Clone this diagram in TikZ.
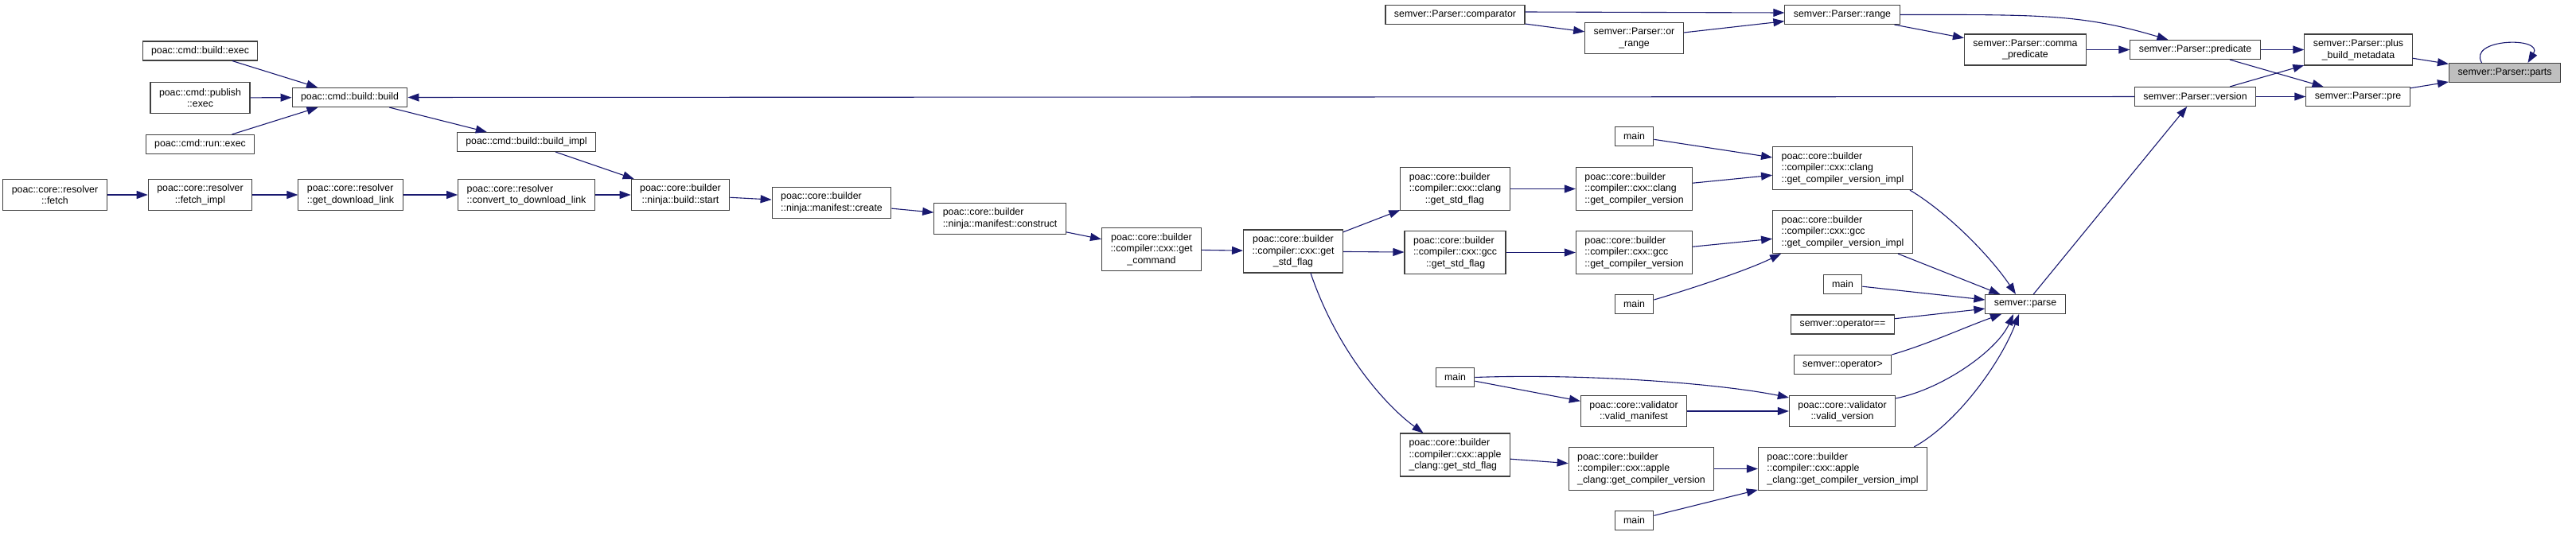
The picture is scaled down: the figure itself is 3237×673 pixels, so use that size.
\documentclass[tikz,border=0pt]{standalone}
\usepackage{fontspec}
\setmainfont{Liberation Sans}
\usetikzlibrary{arrows.meta}
\definecolor{edgeblue}{HTML}{191970}
\definecolor{boxline}{HTML}{404040}
\definecolor{rootfill}{HTML}{BFBFBF}

\begin{document}
\begin{tikzpicture}[
  x=1pt, y=1pt,
  func/.style={draw=boxline, line width=1.1pt, fill=white, minimum height=24pt,
               inner xsep=11pt, inner ysep=2pt, align=center,
               font=\fontsize{12.35}{14.5}\selectfont},
  two/.style={minimum height=39pt},
  three/.style={minimum height=54pt},
  calls/.style={-{Triangle[length=14pt,width=10pt]}, edgeblue, line width=1.1pt}
]
  \useasboundingbox (0,0) rectangle (3237,-673);

  % semver parser
  \node[func, fill=rootfill] (parts) at (3147.5,-91.5) {semver::Parser::parts};
  \node[func, two] (plus) at (2963.5,-62.5) {semver::Parser::plus\\\_build\_metadata};
  \node[func] (pre) at (2963,-121.5) {semver::Parser::pre};
  \node[func] (predicate) at (2758.5,-62.5) {semver::Parser::predicate};
  \node[func] (version) at (2758.5,-121.5) {semver::Parser::version};
  \node[func, two] (comma) at (2545,-62.5) {semver::Parser::comma\\\_predicate};
  \node[func] (range) at (2315,-18.5) {semver::Parser::range};
  \node[func, two] (orrange) at (2053.5,-48) {semver::Parser::or\\\_range};
  \node[func] (comparator) at (1828.5,-18.5) {semver::Parser::comparator};
  \node[func] (parse) at (2545,-382.5) {semver::parse};

  % callers of semver::parse
  \node[func, three, align=left] (clangimpl) at (2315.5,-211.5) {poac::core::builder\\::compiler::cxx::clang\\::get\_compiler\_version\_impl};
  \node[func, three, align=left] (gccimpl) at (2315.5,-291.5) {poac::core::builder\\::compiler::cxx::gcc\\::get\_compiler\_version\_impl};
  \node[func] (mainC) at (2315.5,-357.5) {main};
  \node[func] (opeq) at (2315.5,-408) {semver::operator==};
  \node[func] (opgt) at (2315.5,-458.5) {semver::operator>};
  \node[func, two] (validver) at (2315,-517) {poac::core::validator\\::valid\_version};
  \node[func, three, align=left] (appleimpl) at (2315.5,-589.5) {poac::core::builder\\::compiler::cxx::apple\\\_clang::get\_compiler\_version\_impl};

  % compiler versions
  \node[func] (mainA) at (2053.5,-171.5) {main};
  \node[func, three, align=left] (clangver) at (2053.5,-237.5) {poac::core::builder\\::compiler::cxx::clang\\::get\_compiler\_version};
  \node[func, three, align=left] (gccver) at (2053.5,-317.5) {poac::core::builder\\::compiler::cxx::gcc\\::get\_compiler\_version};
  \node[func] (mainB) at (2053.5,-382.5) {main};
  \node[func, two] (validman) at (2053,-517) {poac::core::validator\\::valid\_manifest};
  \node[func, three, align=left] (applever) at (2062.5,-589.5) {poac::core::builder\\::compiler::cxx::apple\\\_clang::get\_compiler\_version};
  \node[func] (mainE) at (2053.5,-654.5) {main};

  % std flags
  \node[func, three, align=left] (clangstd) at (1828.5,-237.5) {poac::core::builder\\::compiler::cxx::clang\\\hspace*{20pt}::get\_std\_flag};
  \node[func, three, align=left] (gccstd) at (1828.5,-317.5) {poac::core::builder\\::compiler::cxx::gcc\\\hspace*{16pt}::get\_std\_flag};
  \node[func] (mainD) at (1828.5,-474.5) {main};
  \node[func, three, align=left] (applestd) at (1828.5,-572) {poac::core::builder\\::compiler::cxx::apple\\\_clang::get\_std\_flag};
  \node[func, three] (getstd) at (1625,-316) {poac::core::builder\\::compiler::cxx::get\\\_std\_flag};
  \node[func, three] (getcmd) at (1447,-313.5) {poac::core::builder\\::compiler::cxx::get\\\_command};

  % ninja build
  \node[func, two, align=left] (construct) at (1256.5,-275) {poac::core::builder\\::ninja::manifest::construct};
  \node[func, two, align=left] (create) at (1045,-255) {poac::core::builder\\::ninja::manifest::create};
  \node[func, two] (start) at (855,-245) {poac::core::builder\\::ninja::build::start};
  \node[func, two, align=left] (convert) at (661.5,-245) {poac::core::resolver\\::convert\_to\_download\_link};
  \node[func] (buildimpl) at (661.5,-178.5) {poac::cmd::build::build\_impl};

  % resolver and commands
  \node[func, two, align=left] (getlink) at (440.5,-245) {poac::core::resolver\\::get\_download\_link};
  \node[func, two] (fetchimpl) at (251.5,-245) {poac::core::resolver\\::fetch\_impl};
  \node[func, two] (fetch) at (69,-245) {poac::core::resolver\\::fetch};
  \node[func] (build) at (439.5,-122.5) {poac::cmd::build::build};
  \node[func] (bexec) at (251.5,-64) {poac::cmd::build::exec};
  \node[func, two] (pexec) at (251.5,-123) {poac::cmd::publish\\::exec};
  \node[func] (rexec) at (251.5,-181.5) {poac::cmd::run::exec};

  % Arrows: parser
  \draw[calls] ([xshift=-29pt]parts.north) .. controls +(-18,31) and +(20,33) .. ([xshift=29pt]parts.north);
  \draw[calls] (plus) -- (parts);
  \draw[calls] (pre) -- (parts);
  \draw[calls] (predicate) -- (plus);
  \draw[calls] (predicate) -- (pre);
  \draw[calls] (version) -- (plus);
  \draw[calls] (version) -- (pre);
  \draw[calls] (range.east) .. controls +(170,0) and +(-110,33) .. ([xshift=-34pt]predicate.north);
  \draw[calls] (range) -- (comma);
  \draw[calls] (comma) -- (predicate);
  \draw[calls] ([yshift=3.5pt]comparator.east) -- ([yshift=2.5pt]range.west);
  \draw[calls] (comparator) -- (orrange);
  \draw[calls] (orrange) -- (range);
  \draw[calls] (parse) -- (version);
  \draw[calls] (version) -- (build);

  % Arrows: into semver::parse
  \draw[calls] ([xshift=-4pt]clangimpl.south east) .. controls +(50,-30) and +(-30,45) .. ([xshift=-12pt]parse.north);
  \draw[calls] (gccimpl) -- (parse);
  \draw[calls] (mainC) -- (parse);
  \draw[calls] (opeq) -- (parse);
  \draw[calls] (opgt.north east) .. controls +(45,13) and +(-45,-16) .. ([xshift=-30pt]parse.south);
  \draw[calls] ([yshift=-4pt]validver.north east) .. controls +(60,12) and +(-20,-45) .. ([xshift=-15pt]parse.south);
  \draw[calls] ([xshift=-17pt]appleimpl.north east) .. controls +(55,30) and +(-22,-59) .. ([xshift=-8pt]parse.south);

  % Arrows: compilers
  \draw[calls] (mainA) -- (clangimpl);
  \draw[calls] (clangver) -- (clangimpl);
  \draw[calls] (gccver) -- (gccimpl);
  \draw[calls] ([yshift=5.5pt]mainB.east) .. controls +(40,12) and +(-45,-22) .. ([xshift=11pt]gccimpl.south west);
  \draw[calls] (mainD.east) .. controls +(137,5) and +(-89,18) .. ([yshift=-3pt]validver.north west);
  \draw[calls] (mainD) -- (validman);
  \draw[calls] (validman) -- (validver);
  \draw[calls] (applever) -- (appleimpl);
  \draw[calls] (mainE) -- (appleimpl);
  \draw[calls] (clangstd) -- (clangver);
  \draw[calls] (gccstd) -- (gccver);
  \draw[calls] (applestd) -- (applever);
  \draw[calls] (getstd) -- (clangstd);
  \draw[calls] (getstd) -- (gccstd);
  \draw[calls] ([xshift=22pt]getstd.south) .. controls +(33,-97) and +(-48,35) .. ([xshift=-40pt]applestd.north);

  % Arrows: build chain
  \draw[calls] (getcmd) -- (getstd);
  \draw[calls] (construct) -- (getcmd);
  \draw[calls] (create) -- (construct);
  \draw[calls] (start) -- (create);
  \draw[calls] (convert) -- (start);
  \draw[calls] (buildimpl) -- (start);
  \draw[calls] (build) -- (buildimpl);
  \draw[calls] (getlink) -- (convert);
  \draw[calls] (fetchimpl) -- (getlink);
  \draw[calls] (fetch) -- (fetchimpl);
  \draw[calls] (bexec) -- (build);
  \draw[calls] (pexec) -- (build);
  \draw[calls] (rexec) -- (build);

\end{tikzpicture}
\end{document}
